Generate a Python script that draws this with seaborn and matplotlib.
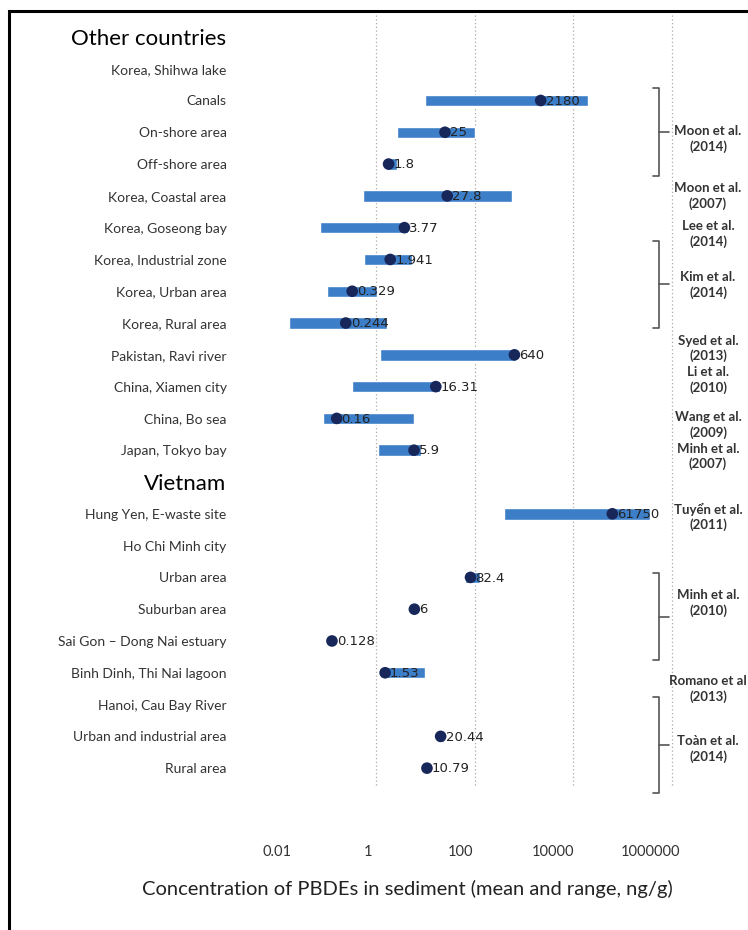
import numpy as np
import pandas as pd
import matplotlib
matplotlib.use("Agg")
import matplotlib.pyplot as plt
import matplotlib.transforms as mtransforms
from matplotlib.patches import Rectangle
import seaborn as sns

# ---------------- data ----------------
categories = [
    "Other countries", "Korea, Shihwa lake", "Canals", "On-shore area", "Off-shore area",
    "Korea, Coastal area", "Korea, Goseong bay", "Korea, Industrial zone", "Korea, Urban area",
    "Korea, Rural area", "Pakistan, Ravi river", "China, Xiamen city", "China, Bo sea",
    "Japan, Tokyo bay", "Vietnam", "Hung Yen, E-waste site", "Ho Chi Minh city", "Urban area",
    "Suburban area", "Sai Gon \u2013 Dong Nai estuary", "Binh Dinh, Thi Nai lagoon",
    "Hanoi, Cau Bay River", "Urban and industrial area", "Rural area",
]
header_categories = ["Other countries", "Vietnam"]
nan = np.nan
mean_values = [nan, nan, 2180, 25, 1.8, 27.8, 3.77, 1.941, 0.329, 0.244, 640, 16.31, 0.16,
               5.9, nan, 61750, nan, 82.4, 6, 0.128, 1.53, nan, 20.44, 10.79]
mean_labels = ["", "", "2180", "25", "1.8", "27.8", "3.77", "1.941", "0.329", "0.244", "640",
               "16.31", "0.16", "5.9", "", "61750", "", "82.4", "6", "0.128", "1.53", "",
               "20.44", "10.79"]
range_min = [nan, nan, 10, 2.7, 1.6, 0.55, 0.074, 0.57, 0.10, 0.0175, 1.2, 0.33, 0.086,
             1.1, nan, 400, nan, 64, nan, nan, 1.5, nan, 17, nan]
range_max = [nan, nan, 20000, 100, 2.7, 570, 4.5, 5.4, 1.06, 1.7, 700, 20, 5.9,
             8, nan, 350000, nan, 129, nan, nan, 10, nan, 24, nan]

ref_names = ["Moon et al.", "Moon et al.", "Lee et al.", "Kim et al.", "Syed et al.",
             "Li et al.", "Wang et al.", "Minh et al.", "Tuy\u1ec3n et al.", "Minh et al.",
             "Romano et al", "To\u00e0n et al."]
ref_years = ["(2014)", "(2007)", "(2014)", "(2014)", "(2013)", "(2010)", "(2009)", "(2007)",
             "(2011)", "(2010)", "(2013)", "(2014)"]
ref_first = ["Canals", "Korea, Coastal area", "Korea, Goseong bay", "Korea, Industrial zone",
             "Pakistan, Ravi river", "China, Xiamen city", "China, Bo sea", "Japan, Tokyo bay",
             "Hung Yen, E-waste site", "Urban area", "Binh Dinh, Thi Nai lagoon",
             "Hanoi, Cau Bay River"]
ref_last = ["Off-shore area", "Korea, Coastal area", "Korea, Goseong bay", "Korea, Rural area",
            "Pakistan, Ravi river", "China, Xiamen city", "China, Bo sea", "Japan, Tokyo bay",
            "Hung Yen, E-waste site", "Sai Gon \u2013 Dong Nai estuary",
            "Binh Dinh, Thi Nai lagoon", "Rural area"]

xtick_values = [0.01, 1, 100, 10000, 1000000]
xtick_labels = ["0.01", "1", "100", "10000", "1000000"]
grid_values = [1, 100, 10000, 1000000]
x_label = "Concentration of PBDEs in sediment (mean and range, ng/g)"

# ---------------- layout / style ----------------
ref_text_shift = [0.2, 0.0, 0.2, -0.2, -0.2, -0.2, 0.2, 0.2, 0.1, -0.2, 0.5, 0.4]
bracket_pad = {0: (0.38, 0.38), 3: (0.58, 0.15), 9: (0.13, 0.6), 11: (0.24, 0.78)}
xtick_label_shift_px = [0, -8, -14, -20, -21]
bar_color = "#3d7ec8"
dot_color = "#17275a"
W, H = 748, 930
ax_left, ax_right, ax_top, ax_bottom = 228, 672, 14, 785

sns.set_style("white")
plt.rcParams["font.family"] = ["Lato", "Open Sans", "DejaVu Sans"]

df = pd.DataFrame({
    "category": categories,
    "row": np.arange(len(categories)),
    "mean": mean_values,
    "lo": range_min,
    "hi": range_max,
    "label": mean_labels,
})
row_of = dict(zip(df["category"], df["row"]))

fig = plt.figure(figsize=(W / 100, H / 100), dpi=100)
fig.patch.set_facecolor("white")
ax = fig.add_axes([ax_left / W, 1 - ax_bottom / H, (ax_right - ax_left) / W,
                   (ax_bottom - ax_top) / H])
ax.set_xscale("log")

bars = df.dropna(subset=["lo"])
ax.barh(bars["row"], bars["hi"] - bars["lo"], left=bars["lo"], height=0.36,
        color=bar_color, zorder=2)
sns.scatterplot(data=df.dropna(subset=["mean"]), x="mean", y="row", ax=ax, s=70,
                color=dot_color, edgecolor="none", zorder=3, legend=False)

for _, r in df.dropna(subset=["mean"]).iterrows():
    ax.annotate(r["label"], (r["mean"], r["row"]), xytext=(3.5, -0.5),
                textcoords="offset points", ha="left", va="center", fontsize=9.5,
                family="DejaVu Sans", color="#222222", zorder=4)

for g in grid_values:
    ax.axvline(g, color="#a8a8a8", lw=0.9, ls=(0, (1, 2)), zorder=1, clip_on=False)

ax.set_xlim(0.001, 1000000)
ax.set_ylim(len(categories) - 0.47, -0.72)
for s in ax.spines.values():
    s.set_visible(False)

ax.set_yticks(df["row"])
ax.set_yticklabels(df["category"])
for t in ax.get_yticklabels():
    if t.get_text() in header_categories:
        t.set_fontsize(16)
        t.set_color("black")
    else:
        t.set_fontsize(10)
        t.set_color("#333333")
ax.tick_params(axis="y", length=0, pad=1)

ax.set_xticks(xtick_values)
ax.set_xticklabels(xtick_labels)
ax.minorticks_off()
ax.tick_params(axis="x", length=0, pad=43, labelsize=10.5, labelcolor="#333333")
for t, dx in zip(ax.get_xticklabels(), xtick_label_shift_px):
    t.set_transform(t.get_transform() + mtransforms.ScaledTranslation(dx / 100, 0,
                                                                      fig.dpi_scale_trans))
ax.set_xlabel(x_label, fontsize=14.5, color="#222222", va="center")
ax.xaxis.set_label_coords(0.405, -(889 - ax_bottom) / (ax_bottom - ax_top))
ax.set_ylabel("")

# references / brackets on the right
trans = mtransforms.blended_transform_factory(ax.transAxes, ax.transData)
bx = (659 - ax_left) / (ax_right - ax_left)
bx_left = (653 - ax_left) / (ax_right - ax_left)
bx_tick = (669 - ax_left) / (ax_right - ax_left)
tx = (708 - ax_left) / (ax_right - ax_left)
for i, (nm, yr, f, l) in enumerate(zip(ref_names, ref_years, ref_first, ref_last)):
    r0, r1 = row_of[f], row_of[l]
    mid = (r0 + r1) / 2
    if r0 != r1:
        pt, pb = bracket_pad[i]
        y0, y1 = r0 - pt, r1 + pb
        ym = (y0 + y1) / 2
        kw = dict(color="#555555", lw=1.2, transform=trans, clip_on=False)
        ax.plot([bx_left, bx, bx, bx_left], [y0, y0, y1, y1], **kw)
        ax.plot([bx, bx_tick], [ym, ym], **kw)
    ax.text(tx, mid + ref_text_shift[i], nm + "\n" + yr, transform=trans, ha="center",
            va="center", fontsize=9.5, fontweight="bold", color="#333333",
            linespacing=1.3, clip_on=False)

# frame around the figure (left and top edges visible)
fig.patches.append(Rectangle((9 / W, -0.1), 2, 1 - 11 / H + 0.1, transform=fig.transFigure,
                             fill=False, lw=2.2, ec="black"))

fig.savefig("out.png", dpi=100, facecolor="white")
